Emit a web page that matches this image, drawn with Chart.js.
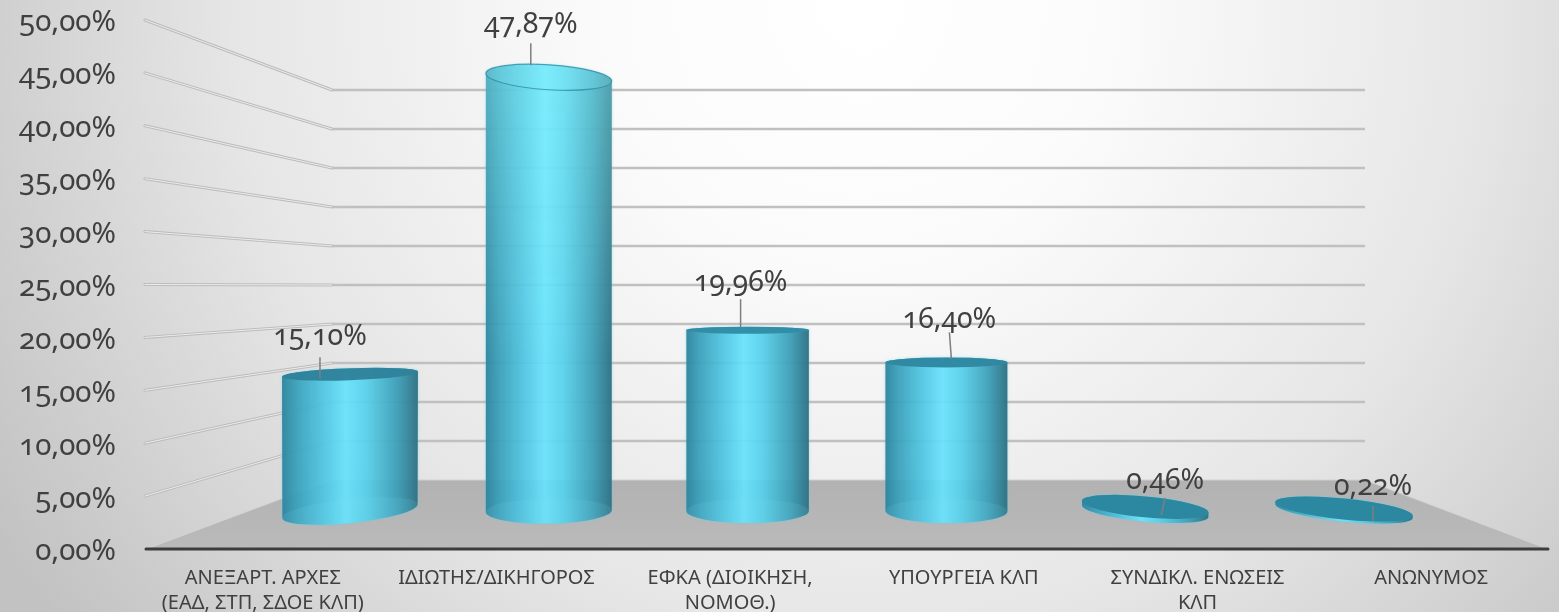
<!DOCTYPE html>
<html><head><meta charset="utf-8">
<style>
html,body{margin:0;padding:0;width:1559px;height:612px;overflow:hidden;
background:radial-gradient(circle 1010px at 860px 10px,#ffffff 0%,#fbfbfb 25%,#e6e6e6 62%,#c2c2c2 100%);}
canvas{display:block;font-feature-settings:"onum" 1;}
</style>
<script src="https://cdn.jsdelivr.net/npm/chart.js@4"></script>
</head><body>
<canvas id="c" width="1559" height="612"></canvas>
<script>
const categories=[["ΑΝΕΞΑΡΤ. ΑΡΧΕΣ","(ΕΑΔ, ΣΤΠ, ΣΔΟΕ ΚΛΠ)"],"ΙΔΙΩΤΗΣ/ΔΙΚΗΓΟΡΟΣ",["ΕΦΚΑ (ΔΙΟΙΚΗΣΗ,","ΝΟΜΟΘ.)"],"ΥΠΟΥΡΓΕΙΑ ΚΛΠ",["ΣΥΝΔΙΚΛ. ΕΝΩΣΕΙΣ","ΚΛΠ"],"ΑΝΩΝΥΜΟΣ"];
const shareValues=[15.10,47.87,19.96,16.40,0.46,0.22];
const barPositions=[0,1,2,3,4,5];

// perspective styling of each cylinder (not data)
const barWidths=[136,126,122.5,122,127,138];
const topRadii=[6,12.5,3.5,5,10.5,10.5];
const topTilts=[-5,8,0,0,12,14];
const baseRadii=[12,12.5,12,12,10.5,10.5];
const baseTilts=[-14,-2,0,1,12,14];
const capColors=["rgba(48,130,155,.96)","rgba(125,235,250,.18)","rgba(50,140,165,.96)","rgba(48,135,160,.96)","rgba(44,135,160,1)","rgba(44,135,160,1)"];
const labelShift=[-30,-18,-7,3,20,29];
const labelGap=[37,52,47,43,26,22];
const leaderLen=[21,22,28,27,17,15];
const leaderDrop=[4,0,0,0,11,15];
const leaderLean=[0,0,0,2,-4,0];

const fmt=v=>v.toFixed(2).replace('.',',')+'%';
const FONT='"Noto Sans"';
const TEXT='#404040';

const scene={
 id:'scene',
 beforeDatasetsDraw(ch){
  const {ctx,chartArea:a,scales:s}=ch;
  const yF=s.y,yB=s.yBack;
  const backL=332,backR=1365;
  const y0F=yF.getPixelForValue(0),y0B=yB.getPixelForValue(0);
  ctx.save();
  // floor
  const g=ctx.createLinearGradient(0,y0B,0,y0F);
  g.addColorStop(0,'#b2b2b2');g.addColorStop(1,'#bababa');
  ctx.fillStyle=g;
  ctx.beginPath();ctx.moveTo(a.left,y0F);ctx.lineTo(backL,y0B);ctx.lineTo(backR,y0B);ctx.lineTo(a.right,y0F);ctx.closePath();ctx.fill();
  ctx.lineWidth=1;ctx.strokeStyle='#d2d2d2';
  ctx.beginPath();ctx.moveTo(a.left,y0F);ctx.lineTo(backL,y0B);ctx.lineTo(backR,y0B);ctx.lineTo(a.right,y0F);ctx.stroke();
  // walls
  yF.ticks.forEach(t=>{
   if(t.value===0)return;
   const f=yF.getPixelForValue(t.value),b=yB.getPixelForValue(t.value);
   ctx.lineCap='round';
   ctx.strokeStyle='#bcbcbc';ctx.lineWidth=3;
   ctx.beginPath();ctx.moveTo(a.left-1,f);ctx.lineTo(backL,b);ctx.stroke();
   ctx.strokeStyle='#ececec';ctx.lineWidth=1;
   ctx.beginPath();ctx.moveTo(a.left-1,f);ctx.lineTo(backL,b);ctx.stroke();
   ctx.lineCap='butt';
   ctx.strokeStyle='#c0c0c0';ctx.lineWidth=2.5;
   ctx.beginPath();ctx.moveTo(backL,b);ctx.lineTo(backR,b);ctx.stroke();
  });
  // front floor edge
  ctx.strokeStyle='#3c3c3c';ctx.lineWidth=3;ctx.lineCap='round';
  ctx.beginPath();ctx.moveTo(a.left,y0F);ctx.lineTo(a.right,y0F);ctx.stroke();
  ctx.restore();
 },
 afterDatasetsDraw(ch){
  const {ctx}=ch;
  const meta=ch.getDatasetMeta(0);
  meta.data.forEach((el,i)=>{
   const cx=el.x,yT=el.y,yB=el.base,rx=barWidths[i]/2;
   const aT=Math.atan2(topTilts[i],barWidths[i]),aB=Math.atan2(baseTilts[i],barWidths[i]);
   ctx.save();
   // side
   const side=()=>{
    ctx.beginPath();
    ctx.ellipse(cx,yB,rx,baseRadii[i],aB,Math.PI,0,true);
    ctx.ellipse(cx,yT,rx,topRadii[i],aT,0,Math.PI,true);
    ctx.closePath();
   };
   const g=ctx.createLinearGradient(cx-rx,0,cx+rx,0);
   g.addColorStop(0,'rgba(44,130,155,.93)');
   g.addColorStop(.1,'rgba(56,156,182,.9)');
   g.addColorStop(.3,'rgba(78,196,224,.88)');
   g.addColorStop(.47,'rgba(104,228,252,.88)');
   g.addColorStop(.62,'rgba(86,208,234,.88)');
   g.addColorStop(.85,'rgba(60,156,180,.92)');
   g.addColorStop(1,'rgba(48,112,130,.96)');
   ctx.shadowColor='rgba(90,205,235,.55)';ctx.shadowBlur=3;
   side();ctx.fillStyle=g;ctx.fill();
   ctx.shadowBlur=0;
   // brighter glaze towards the top of the tallest cylinder
   if(yB-yT>300){
    ctx.save();side();ctx.clip();
    const gl=ctx.createLinearGradient(0,yT,0,yT+280);
    gl.addColorStop(0,'rgba(150,255,255,.32)');gl.addColorStop(1,'rgba(150,255,255,0)');
    ctx.fillStyle=gl;ctx.fillRect(cx-rx,yT-20,rx*2,yB-yT+40);
    ctx.restore();
   }
   // visible floor disc inside
   if(yB-yT>20){
    ctx.beginPath();ctx.ellipse(cx,yB,rx,baseRadii[i],aB,0,Math.PI*2);
    ctx.fillStyle='rgba(125,225,245,.12)';ctx.fill();
   }
   // cap
   ctx.beginPath();ctx.ellipse(cx,yT,rx,topRadii[i],aT,0,Math.PI*2);
   ctx.fillStyle=capColors[i];ctx.fill();
   if(i===1){
    ctx.strokeStyle='rgba(50,140,165,.8)';ctx.lineWidth=1.2;ctx.stroke();
   }
   // leader + label
   const lx=cx+labelShift[i];
   const y2=yT+leaderDrop[i]+(i===1?-12:(i===0?0:-3));
   ctx.strokeStyle='#7f7f7f';ctx.lineWidth=1.5;
   ctx.beginPath();ctx.moveTo(lx,y2-leaderLen[i]);ctx.lineTo(lx+leaderLean[i],y2);ctx.stroke();
   ctx.fillStyle=TEXT;ctx.textAlign='center';ctx.textBaseline='middle';
   ctx.font='28.5px '+FONT;
   ctx.fillText(fmt(shareValues[i]),lx,yT-labelGap[i]);
   ctx.restore();
  });
 }
};

new Chart(document.getElementById('c'),{
 type:'bar',
 data:{labels:categories,datasets:[{
  label:'Ποσοστό',
  data:barPositions.map((p,i)=>({x:p,y:shareValues[i]})),
  xAxisID:'xDepth',yAxisID:'yDepth',
  backgroundColor:'rgba(0,0,0,0)',borderWidth:0,barThickness:120
 }]},
 options:{
  responsive:false,animation:false,
  layout:{padding:{top:20,right:11,left:0,bottom:0}},
  plugins:{legend:{display:false},title:{display:false},tooltip:{enabled:false}},
  scales:{
   x:{type:'category',position:'bottom',offset:true,
      grid:{display:false},border:{display:false},
      afterFit(s){s.height=63;s.paddingLeft=0;s.paddingRight=0;},
      ticks:{color:TEXT,maxRotation:0,minRotation:0,autoSkip:false,padding:9,font:{family:FONT,size:20,lineHeight:1.25}}},
   y:{type:'linear',position:'left',min:0,max:50,
      grid:{display:false,drawTicks:false},border:{display:false},
      afterFit(s){s.width=146;s.paddingTop=0;s.paddingBottom=0;},
      ticks:{stepSize:5,color:TEXT,padding:30,labelOffset:3,font:{family:FONT,size:29.5},callback:v=>fmt(v)}},
   yBack:{type:'linear',display:false,min:-8.846,max:58.974},
   yDepth:{type:'linear',display:false,min:-4.194,max:54.194},
   xDepth:{type:'linear',display:false,position:'bottom',offset:false,min:-1.026,max:6.026,grid:{offset:false}}
  }
 },
 plugins:[scene]
});
</script>
</body></html>
